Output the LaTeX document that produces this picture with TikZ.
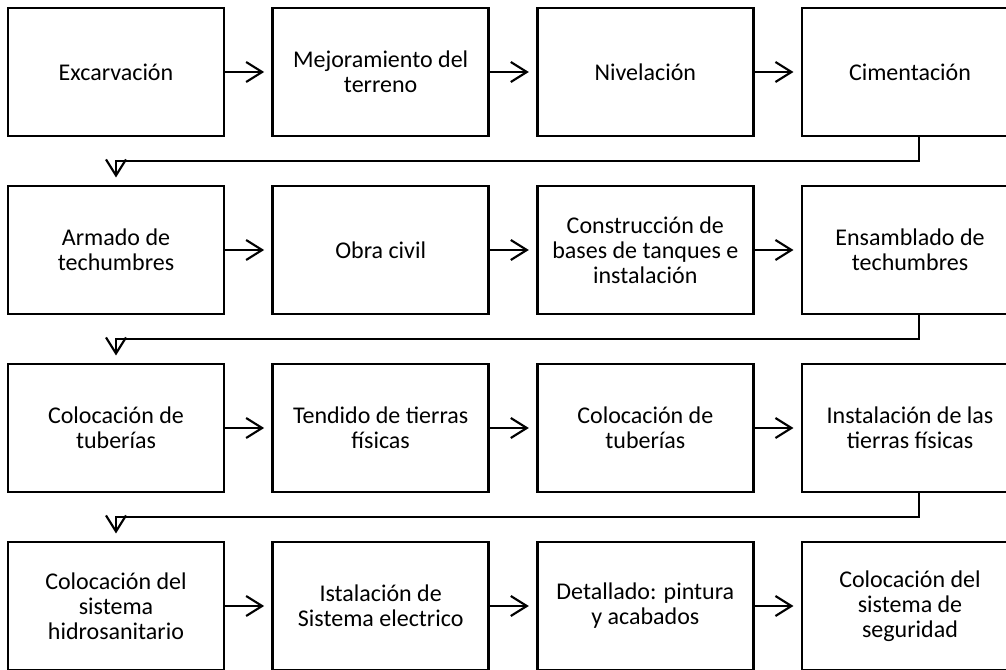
\documentclass[tikz,border=0pt]{standalone}
\usepackage{fontspec}
\setmainfont{Carlito}
\usetikzlibrary{positioning,calc,arrows.meta}
\tikzset{stepbox/.style={draw, line width=1.8pt, minimum width=162pt, minimum height=96pt, align=center, font=\fontsize{18pt}{18.8pt}\selectfont, inner sep=2pt},
	flow/.style={line width=1.8pt, -{Straight Barb[length=12pt, width=15pt, line width=1.6pt]}, shorten >=5.5pt}
}

\begin{document}
\begin{tikzpicture}[x=0.75pt, y=-0.75pt, node distance=35.7pt and 34.7pt]
	\clip (0,0) rectangle (1006,670);
	\useasboundingbox (0,0) rectangle (1006,670);
	% fila 1
	\node[stepbox] (exc) at (116,72) {Excarvación};
	\node[stepbox, right=of exc] (mej) {Mejoramiento del\\terreno};
	\node[stepbox, right=of mej] (niv) {Nivelación};
	\node[stepbox, right=of niv] (cim) {Cimentación};
	% fila 2
	\node[stepbox, below=of exc] (arm) {Armado de\\techumbres};
	\node[stepbox, right=of arm] (obra) {Obra civil};
	\node[stepbox, right=of obra] (cons) {Construcción de\\bases de tanques e\\instalación};
	\node[stepbox, right=of cons] (ens) {Ensamblado de\\techumbres};
	% fila 3
	\node[stepbox, below=of arm] (tub1) {Colocación de\\tuberías};
	\node[stepbox, right=of tub1] (tend) {Tendido de tierras\\físicas};
	\node[stepbox, right=of tend] (tub2) {Colocación de\\tuberías};
	\node[stepbox, right=of tub2] (inst) {Instalación de las\\tierras físicas};
	% fila 4
	\node[stepbox, below=of tub1] (hidro) {Colocación del\\sistema\\hidrosanitario};
	\node[stepbox, right=of hidro] (elec) {Istalación de\\Sistema electrico};
	\node[stepbox, right=of elec] (det) {Detallado: pintura\\y acabados};
	\node[stepbox, right=of det] (seg) {Colocación del\\sistema de\\seguridad};

	% flechas horizontales
	\draw[flow] (exc) -- (mej);
	\draw[flow] (mej) -- (niv);
	\draw[flow] (niv) -- (cim);
	\draw[flow] (arm) -- (obra);
	\draw[flow] (obra) -- (cons);
	\draw[flow] (cons) -- (ens);
	\draw[flow] (tub1) -- (tend);
	\draw[flow] (tend) -- (tub2);
	\draw[flow] (tub2) -- (inst);
	\draw[flow] (hidro) -- (elec);
	\draw[flow] (elec) -- (det);
	\draw[flow] (det) -- (seg);

	% retornos entre filas
	\coordinate (r1) at ($(exc.south)!0.5!(arm.north)$);
	\coordinate (r2) at ($(arm.south)!0.5!(tub1.north)$);
	\coordinate (r3) at ($(tub1.south)!0.5!(hidro.north)$);
	\draw[flow] ([xshift=6.75pt]cim.south) |- (r1) -- (arm.north);
	\draw[flow] ([xshift=6.75pt]ens.south) |- (r2) -- (tub1.north);
	\draw[flow] ([xshift=6.75pt]inst.south) |- (r3) -- (hidro.north);
\end{tikzpicture}
\end{document}
